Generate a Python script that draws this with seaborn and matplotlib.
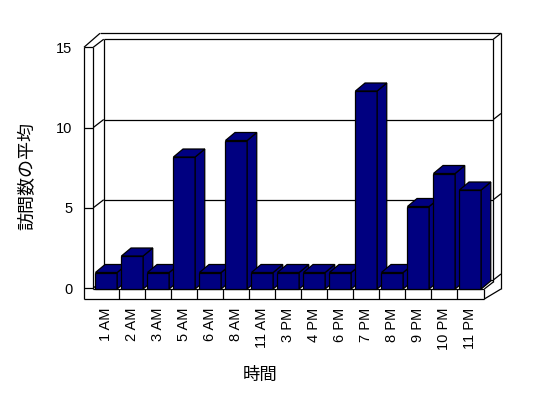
import matplotlib
matplotlib.use("Agg")
import matplotlib.pyplot as plt
from matplotlib.patches import Polygon
import seaborn as sns
import pandas as pd

# ---- data ----
hours = ['1 AM', '2 AM', '3 AM', '5 AM', '6 AM', '8 AM', '11 AM', '3 PM',
         '4 PM', '6 PM', '7 PM', '8 PM', '9 PM', '10 PM', '11 PM']
visits = [1, 2, 1, 8, 1, 9, 1, 1, 1, 1, 12, 1, 5, 7, 6]
yticks = [0, 5, 10, 15]
xlabel = '時間'
ylabel = '訪問数の平均'

sns.set_style('white')
plt.rcParams['font.family'] = ['Liberation Sans', 'Noto Sans CJK JP', 'DejaVu Sans']
for k in ('text.color', 'axes.labelcolor', 'xtick.color', 'ytick.color'):
    plt.rcParams[k] = 'black'

W, H = 548, 398
fig = plt.figure(figsize=(W / 100, H / 100), dpi=100)

# ---- geometry of the 3-D box (pixels) ----
FX0, FX1 = 84.0, 93.3        # left wall front face (outer / inner)
CX1 = 483.3                  # end of category axis at front
BX0, BX1 = 103.7, 493.3      # back wall inner left / right
OX, OY, OXL = 501.0, 33.3, 100.0   # outer right, outer top, outer top-left
FY, FYB = 289.0, 299.0       # floor top front / floor slab bottom
WY0, WSC = 288.0, 16.05      # wall scale: value 0 pixel, pixel per unit
DDY = -8.0                   # back-plane vertical offset
YMAX = yticks[-1]

def yf(v):
    return WY0 - WSC * v

def yb(v):
    return yf(v) + DDY

# frame axes in pixel coordinates
axf = fig.add_axes([0, 0, 1, 1])
axf.set_xlim(0, W)
axf.set_ylim(H, 0)
axf.axis('off')
axf.set_zorder(0)

lw = 0.9
def seg(xs, ys):
    axf.plot(xs, ys, color='black', lw=lw, solid_capstyle='butt')

# gridlines across walls
for v in yticks:
    seg([FX0, FX1], [yf(v), yf(v)])
    seg([FX1, BX0], [yf(v), yb(v)])
    seg([BX0, BX1], [yb(v), yb(v)])
    seg([BX1, OX], [yb(v), yb(v) - 6])
# left wall front face
seg([FX0, FX0], [yf(YMAX), FYB])
seg([FX1, FX1], [yf(YMAX), FY])
seg([FX0, OXL], [yf(YMAX), OY])
seg([OXL, OX], [OY, OY])
seg([BX0, BX0], [yb(YMAX), FY + DDY])
# right side
seg([BX1, BX1], [yb(YMAX), FY + DDY + 1])
seg([OX, OX], [OY, FY])
# floor slab
seg([FX1, CX1 + 1], [FY, FY])
seg([FX0, CX1 + 1], [FYB, FYB])
seg([CX1 + 1, CX1 + 1], [FY, FYB])
seg([CX1 + 1, BX1], [FY, FY + DDY + 1])
seg([CX1 + 1, OX], [FYB, FY])
step = (CX1 - FX1) / len(hours)
for k in range(1, len(hours)):
    x = FX1 + k * step
    seg([x, x], [FY, FYB])

# ---- wall axes for y tick labels ----
axw = fig.add_axes([FX0 / W, (H - WY0) / H, 0.001, (WY0 - yf(YMAX)) / H])
axw.set_ylim(0, YMAX)
axw.set_yticks(yticks)
axw.set_yticklabels([str(t) for t in yticks], fontsize=10.5)
axw.set_xticks([])
axw.tick_params(axis='y', length=0, pad=8.3)
for s in axw.spines.values():
    s.set_visible(False)
axw.patch.set_visible(False)
axw.set_ylabel(ylabel, fontsize=13)
axw.yaxis.set_label_coords(36 / W, 1 - 176 / H, transform=fig.transFigure)
axw.set_zorder(1)

# ---- bar axes ----
BSC = 16.5  # pixel per unit at bar front
axb = fig.add_axes([FX1 / W, (H - FY) / H, (CX1 - FX1) / W, BSC * YMAX / H])
df = pd.DataFrame({'hour': hours, 'visits': visits})
sns.barplot(data=df, x='hour', y='visits', color='#000080', saturation=1,
            width=0.835, edgecolor='black', linewidth=lw, errorbar=None, ax=axb)
axb.set_xlim(-0.5, len(hours) - 0.5)
axb.set_ylim(0, YMAX)
axb.set_yticks([])
axb.set_ylabel('')
axb.set_xlabel(xlabel, fontsize=12.5)
axb.xaxis.set_label_coords(260 / W, 1 - 367 / H, transform=fig.transFigure)
axb.tick_params(axis='x', length=0, pad=13.5, labelsize=10.5, labelrotation=90)
for s in axb.spines.values():
    s.set_visible(False)
axb.patch.set_visible(False)
axb.set_zorder(2)

ddx = 9.6 / step
ddy = -DDY / BSC
for i, p in enumerate(axb.patches):
    x0, w, h = p.get_x(), p.get_width(), p.get_height()
    p.set_zorder(3 + i)
    side = Polygon([(x0 + w, 0), (x0 + w + ddx, ddy), (x0 + w + ddx, h + ddy), (x0 + w, h)],
                   closed=True, facecolor='#000080', edgecolor='black', lw=lw,
                   clip_on=False, zorder=3 + i)
    top = Polygon([(x0, h), (x0 + w, h), (x0 + w + ddx, h + ddy), (x0 + ddx, h + ddy)],
                  closed=True, facecolor='#000080', edgecolor='black', lw=lw,
                  clip_on=False, zorder=3 + i)
    axb.add_patch(side)
    axb.add_patch(top)
    p.set_clip_on(False)

fig.savefig('out.png', dpi=100, facecolor='white')
